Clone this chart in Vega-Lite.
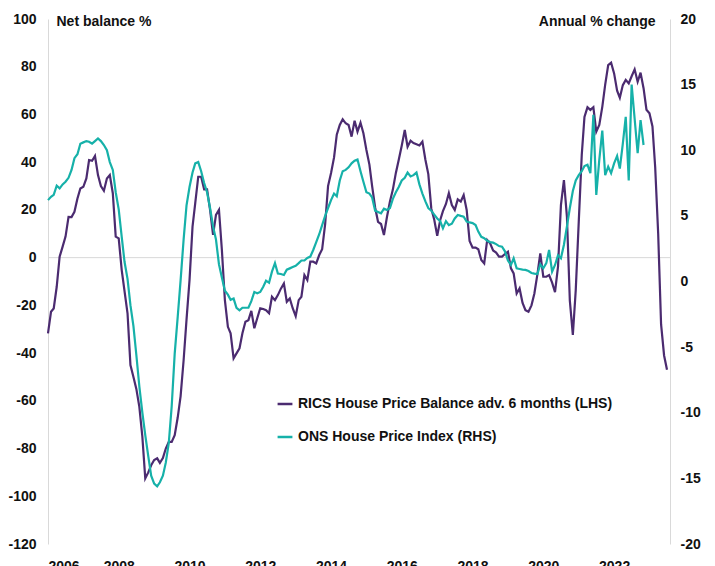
{
  "$schema": "https://vega.github.io/schema/vega-lite/v6.json",
  "width": 622,
  "height": 525,
  "autosize": {"type": "none"},
  "padding": {"left": 48, "top": 19, "right": 45, "bottom": 22},
  "config": {
    "view": {"stroke": null},
    "font": "Liberation Sans",
    "axis": {"labelFont": "Liberation Sans", "titleFont": "Liberation Sans", "labelColor": "#111111", "titleColor": "#111111"},
    "legend": {"labelFont": "Liberation Sans"}
  },
  "datasets": {
    "rics": [
      {"d":"2006-01","v":-31.7},{"d":"2006-02","v":-22.7},{"d":"2006-03","v":-21.3},{"d":"2006-04","v":-12.2},{"d":"2006-05","v":0.4},{"d":"2006-06","v":4.6},{"d":"2006-07","v":8.8},{"d":"2006-08","v":17.1},{"d":"2006-09","v":17},{"d":"2006-10","v":19.2},{"d":"2006-11","v":24.8},{"d":"2006-12","v":29},
      {"d":"2007-01","v":29.7},{"d":"2007-02","v":33.2},{"d":"2007-03","v":40.9},{"d":"2007-04","v":40.6},{"d":"2007-05","v":42.6},{"d":"2007-06","v":34.6},{"d":"2007-07","v":30},{"d":"2007-08","v":28},{"d":"2007-09","v":33.2},{"d":"2007-10","v":34.6},{"d":"2007-11","v":27},{"d":"2007-12","v":8.8},
      {"d":"2008-01","v":8.1},{"d":"2008-02","v":-5.2},{"d":"2008-03","v":-14},{"d":"2008-04","v":-23.3},{"d":"2008-05","v":-45},{"d":"2008-06","v":-50},{"d":"2008-07","v":-55},{"d":"2008-08","v":-62.5},{"d":"2008-09","v":-75},{"d":"2008-10","v":-92.5},{"d":"2008-11","v":-90},{"d":"2008-12","v":-87},
      {"d":"2009-01","v":-84.8},{"d":"2009-02","v":-84.1},{"d":"2009-03","v":-86},{"d":"2009-04","v":-84},{"d":"2009-05","v":-80},{"d":"2009-06","v":-77.2},{"d":"2009-07","v":-77.2},{"d":"2009-08","v":-74.4},{"d":"2009-09","v":-67},{"d":"2009-10","v":-58},{"d":"2009-11","v":-43},{"d":"2009-12","v":-26},
      {"d":"2010-01","v":-9.4},{"d":"2010-02","v":13},{"d":"2010-03","v":22.8},{"d":"2010-04","v":33.9},{"d":"2010-05","v":33.9},{"d":"2010-06","v":28.6},{"d":"2010-07","v":28.6},{"d":"2010-08","v":20},{"d":"2010-09","v":9.5},{"d":"2010-10","v":17.9},{"d":"2010-11","v":20},{"d":"2010-12","v":3.2},
      {"d":"2011-01","v":-17.8},{"d":"2011-02","v":-29},{"d":"2011-03","v":-31.7},{"d":"2011-04","v":-42.2},{"d":"2011-05","v":-40.1},{"d":"2011-06","v":-38},{"d":"2011-07","v":-31.7},{"d":"2011-08","v":-26.9},{"d":"2011-09","v":-26.2},{"d":"2011-10","v":-22.3},{"d":"2011-11","v":-29.6},{"d":"2011-12","v":-25.4},
      {"d":"2012-01","v":-21.2},{"d":"2012-02","v":-21.5},{"d":"2012-03","v":-22},{"d":"2012-04","v":-23.3},{"d":"2012-05","v":-16.4},{"d":"2012-06","v":-17.8},{"d":"2012-07","v":-15.7},{"d":"2012-08","v":-13},{"d":"2012-09","v":-10.8},{"d":"2012-10","v":-18.5},{"d":"2012-11","v":-17.1},{"d":"2012-12","v":-21.2},
      {"d":"2013-01","v":-24.5},{"d":"2013-02","v":-17.8},{"d":"2013-03","v":-16.4},{"d":"2013-04","v":-7.3},{"d":"2013-05","v":-9.4},{"d":"2013-06","v":-1.7},{"d":"2013-07","v":-1.7},{"d":"2013-08","v":-2.4},{"d":"2013-09","v":1.1},{"d":"2013-10","v":3.5},{"d":"2013-11","v":14},{"d":"2013-12","v":30},
      {"d":"2014-01","v":35.5},{"d":"2014-02","v":42},{"d":"2014-03","v":51.5},{"d":"2014-04","v":55.6},{"d":"2014-05","v":58},{"d":"2014-06","v":56.3},{"d":"2014-07","v":55.6},{"d":"2014-08","v":50.7},{"d":"2014-09","v":57.4},{"d":"2014-10","v":52.8},{"d":"2014-11","v":56.5},{"d":"2014-12","v":52.1},
      {"d":"2015-01","v":45.1},{"d":"2015-02","v":39},{"d":"2015-03","v":30},{"d":"2015-04","v":21},{"d":"2015-05","v":15},{"d":"2015-06","v":14.1},{"d":"2015-07","v":9.5},{"d":"2015-08","v":17},{"d":"2015-09","v":23.5},{"d":"2015-10","v":28.5},{"d":"2015-11","v":35.5},{"d":"2015-12","v":41},
      {"d":"2016-01","v":47},{"d":"2016-02","v":53.5},{"d":"2016-03","v":46.5},{"d":"2016-04","v":49},{"d":"2016-05","v":48},{"d":"2016-06","v":47.5},{"d":"2016-07","v":47},{"d":"2016-08","v":48.6},{"d":"2016-09","v":41},{"d":"2016-10","v":35},{"d":"2016-11","v":20.5},{"d":"2016-12","v":16},
      {"d":"2017-01","v":9.1},{"d":"2017-02","v":15.8},{"d":"2017-03","v":19.5},{"d":"2017-04","v":22.5},{"d":"2017-05","v":27},{"d":"2017-06","v":22},{"d":"2017-07","v":20},{"d":"2017-08","v":24.4},{"d":"2017-09","v":23.5},{"d":"2017-10","v":26.2},{"d":"2017-11","v":20},{"d":"2017-12","v":7},
      {"d":"2018-01","v":4.2},{"d":"2018-02","v":4.2},{"d":"2018-03","v":3.5},{"d":"2018-04","v":-1},{"d":"2018-05","v":-2.4},{"d":"2018-06","v":7.4},{"d":"2018-07","v":6},{"d":"2018-08","v":3},{"d":"2018-09","v":2.1},{"d":"2018-10","v":0.4},{"d":"2018-11","v":0.4},{"d":"2018-12","v":1.5},
      {"d":"2019-01","v":2.5},{"d":"2019-02","v":-4.5},{"d":"2019-03","v":-6.6},{"d":"2019-04","v":-15},{"d":"2019-05","v":-12.9},{"d":"2019-06","v":-19},{"d":"2019-07","v":-22},{"d":"2019-08","v":-22.7},{"d":"2019-09","v":-20},{"d":"2019-10","v":-15},{"d":"2019-11","v":-7},{"d":"2019-12","v":1.8},
      {"d":"2020-01","v":-8},{"d":"2020-02","v":-8},{"d":"2020-03","v":-7.3},{"d":"2020-04","v":-10.5},{"d":"2020-05","v":-14.5},{"d":"2020-06","v":-3.8},{"d":"2020-07","v":22},{"d":"2020-08","v":32.5},{"d":"2020-09","v":17.1},{"d":"2020-10","v":-18},{"d":"2020-11","v":-32.4},{"d":"2020-12","v":-13.6},
      {"d":"2021-01","v":15},{"d":"2021-02","v":43},{"d":"2021-03","v":59},{"d":"2021-04","v":63},{"d":"2021-05","v":61.9},{"d":"2021-06","v":63},{"d":"2021-07","v":52.8},{"d":"2021-08","v":55.6},{"d":"2021-09","v":63.2},{"d":"2021-10","v":72.5},{"d":"2021-11","v":80.7},{"d":"2021-12","v":81.7},
      {"d":"2022-01","v":77.2},{"d":"2022-02","v":70},{"d":"2022-03","v":67},{"d":"2022-04","v":72.3},{"d":"2022-05","v":74.5},{"d":"2022-06","v":73},{"d":"2022-07","v":76},{"d":"2022-08","v":78.9},{"d":"2022-09","v":73.7},{"d":"2022-10","v":77.5},{"d":"2022-11","v":71},{"d":"2022-12","v":62},
      {"d":"2023-01","v":60.5},{"d":"2023-02","v":55},{"d":"2023-03","v":38},{"d":"2023-04","v":10},{"d":"2023-05","v":-28},{"d":"2023-06","v":-41},{"d":"2023-07","v":-47}
    ],
    "ons": [
      {"d":"2006-01","v":6.2},{"d":"2006-02","v":6.45},{"d":"2006-03","v":6.6},{"d":"2006-04","v":7.3},{"d":"2006-05","v":7.1},{"d":"2006-06","v":7.4},{"d":"2006-07","v":7.6},{"d":"2006-08","v":7.9},{"d":"2006-09","v":8.5},{"d":"2006-10","v":9.4},{"d":"2006-11","v":9.7},{"d":"2006-12","v":10.5},
      {"d":"2007-01","v":10.6},{"d":"2007-02","v":10.7},{"d":"2007-03","v":10.65},{"d":"2007-04","v":10.5},{"d":"2007-05","v":10.7},{"d":"2007-06","v":10.9},{"d":"2007-07","v":10.7},{"d":"2007-08","v":10.4},{"d":"2007-09","v":10.0},{"d":"2007-10","v":9.1},{"d":"2007-11","v":8.5},{"d":"2007-12","v":6.8},
      {"d":"2008-01","v":5.5},{"d":"2008-02","v":3.4},{"d":"2008-03","v":1.5},{"d":"2008-04","v":0.2},{"d":"2008-05","v":-1.8},{"d":"2008-06","v":-3.4},{"d":"2008-07","v":-5.6},{"d":"2008-08","v":-8},{"d":"2008-09","v":-10},{"d":"2008-10","v":-11.7},{"d":"2008-11","v":-13.3},{"d":"2008-12","v":-14.8},
      {"d":"2009-01","v":-15.4},{"d":"2009-02","v":-15.6},{"d":"2009-03","v":-15.3},{"d":"2009-04","v":-14.8},{"d":"2009-05","v":-13.8},{"d":"2009-06","v":-12.3},{"d":"2009-07","v":-9.5},{"d":"2009-08","v":-5.5},{"d":"2009-09","v":-2.7},{"d":"2009-10","v":0.1},{"d":"2009-11","v":3.2},{"d":"2009-12","v":5.8},
      {"d":"2010-01","v":7.2},{"d":"2010-02","v":8.3},{"d":"2010-03","v":9.0},{"d":"2010-04","v":9.1},{"d":"2010-05","v":8.4},{"d":"2010-06","v":7.5},{"d":"2010-07","v":6.8},{"d":"2010-08","v":5.6},{"d":"2010-09","v":4.2},{"d":"2010-10","v":3.2},{"d":"2010-11","v":1.3},{"d":"2010-12","v":0.3},
      {"d":"2011-01","v":-0.7},{"d":"2011-02","v":-1.0},{"d":"2011-03","v":-1.4},{"d":"2011-04","v":-1.3},{"d":"2011-05","v":-2.0},{"d":"2011-06","v":-2.2},{"d":"2011-07","v":-2.0},{"d":"2011-08","v":-2.0},{"d":"2011-09","v":-2.0},{"d":"2011-10","v":-1.5},{"d":"2011-11","v":-0.8},{"d":"2011-12","v":-0.9},
      {"d":"2012-01","v":-0.8},{"d":"2012-02","v":-0.4},{"d":"2012-03","v":0.06},{"d":"2012-04","v":-0.1},{"d":"2012-05","v":0.75},{"d":"2012-06","v":1.4},{"d":"2012-07","v":0.6},{"d":"2012-08","v":0.57},{"d":"2012-09","v":0.5},{"d":"2012-10","v":0.9},{"d":"2012-11","v":1.0},{"d":"2012-12","v":1.1},
      {"d":"2013-01","v":1.2},{"d":"2013-02","v":1.4},{"d":"2013-03","v":1.6},{"d":"2013-04","v":1.6},{"d":"2013-05","v":1.8},{"d":"2013-06","v":1.9},{"d":"2013-07","v":2.4},{"d":"2013-08","v":3.0},{"d":"2013-09","v":3.6},{"d":"2013-10","v":4.3},{"d":"2013-11","v":5.0},{"d":"2013-12","v":5.6},
      {"d":"2014-01","v":6.2},{"d":"2014-02","v":6.7},{"d":"2014-03","v":6.5},{"d":"2014-04","v":7.7},{"d":"2014-05","v":8.4},{"d":"2014-06","v":8.5},{"d":"2014-07","v":8.7},{"d":"2014-08","v":9.0},{"d":"2014-09","v":9.2},{"d":"2014-10","v":9.3},{"d":"2014-11","v":8.4},{"d":"2014-12","v":7.6},
      {"d":"2015-01","v":6.8},{"d":"2015-02","v":6.7},{"d":"2015-03","v":6.4},{"d":"2015-04","v":5.4},{"d":"2015-05","v":5.3},{"d":"2015-06","v":5.2},{"d":"2015-07","v":5.55},{"d":"2015-08","v":5.45},{"d":"2015-09","v":5.6},{"d":"2015-10","v":6.3},{"d":"2015-11","v":6.8},{"d":"2015-12","v":7.2},
      {"d":"2016-01","v":7.7},{"d":"2016-02","v":7.9},{"d":"2016-03","v":8.3},{"d":"2016-04","v":8.0},{"d":"2016-05","v":8.1},{"d":"2016-06","v":8.3},{"d":"2016-07","v":7.4},{"d":"2016-08","v":6.7},{"d":"2016-09","v":6.1},{"d":"2016-10","v":5.6},{"d":"2016-11","v":5.4},{"d":"2016-12","v":5.1},
      {"d":"2017-01","v":4.8},{"d":"2017-02","v":4.6},{"d":"2017-03","v":4.05},{"d":"2017-04","v":4.6},{"d":"2017-05","v":4.3},{"d":"2017-06","v":4.4},{"d":"2017-07","v":4.8},{"d":"2017-08","v":5.07},{"d":"2017-09","v":5.0},{"d":"2017-10","v":4.94},{"d":"2017-11","v":4.56},{"d":"2017-12","v":4.5},
      {"d":"2018-01","v":4.45},{"d":"2018-02","v":4.3},{"d":"2018-03","v":3.8},{"d":"2018-04","v":3.4},{"d":"2018-05","v":3.3},{"d":"2018-06","v":3.1},{"d":"2018-07","v":3.0},{"d":"2018-08","v":2.96},{"d":"2018-09","v":2.85},{"d":"2018-10","v":2.7},{"d":"2018-11","v":2.65},{"d":"2018-12","v":2.3},
      {"d":"2019-01","v":1.6},{"d":"2019-02","v":1.26},{"d":"2019-03","v":1.77},{"d":"2019-04","v":1.0},{"d":"2019-05","v":0.95},{"d":"2019-06","v":0.9},{"d":"2019-07","v":0.88},{"d":"2019-08","v":0.8},{"d":"2019-09","v":0.65},{"d":"2019-10","v":0.6},{"d":"2019-11","v":0.57},{"d":"2019-12","v":1.3},
      {"d":"2020-01","v":1.0},{"d":"2020-02","v":1.4},{"d":"2020-03","v":2.4},{"d":"2020-04","v":0.75},{"d":"2020-05","v":1.26},{"d":"2020-06","v":2.0},{"d":"2020-07","v":1.77},{"d":"2020-08","v":2.8},{"d":"2020-09","v":4.2},{"d":"2020-10","v":5.6},{"d":"2020-11","v":6.9},{"d":"2020-12","v":7.7},
      {"d":"2021-01","v":8.1},{"d":"2021-02","v":8.4},{"d":"2021-03","v":8.8},{"d":"2021-04","v":8.9},{"d":"2021-05","v":8.25},{"d":"2021-06","v":12.7},{"d":"2021-07","v":6.6},{"d":"2021-08","v":9.26},{"d":"2021-09","v":11.5},{"d":"2021-10","v":8.1},{"d":"2021-11","v":8.75},{"d":"2021-12","v":8.25},
      {"d":"2022-01","v":9.0},{"d":"2022-02","v":9.56},{"d":"2022-03","v":8.6},{"d":"2022-04","v":10.5},{"d":"2022-05","v":12.55},{"d":"2022-06","v":7.7},{"d":"2022-07","v":15.0},{"d":"2022-08","v":12.4},{"d":"2022-09","v":9.77},{"d":"2022-10","v":12.3},{"d":"2022-11","v":10.4}
    ]
  },
  "layer": [
    {
      "data": {"values": [{"z": 0}]},
      "mark": {"type": "rule", "color": "#d9d9d9", "strokeWidth": 1},
      "encoding": {
        "y": {"field": "z", "type": "quantitative", "scale": {"domain": [-120, 100], "nice": false, "zero": false}, "axis": null}
      }
    },
    {
      "data": {"name": "rics"},
      "mark": {"type": "line", "strokeWidth": 2.2, "interpolate": "linear"},
      "encoding": {
        "x": {
          "field": "d", "type": "temporal",
          "scale": {"type": "utc", "domain": [{"year": 2006, "month": 1, "date": 1, "utc": true}, {"year": 2023, "month": 8, "date": 1, "utc": true}]},
          "axis": {
            "values": [
              {"year": 2006, "month": 1, "date": 1, "utc": true},
              {"year": 2008, "month": 1, "date": 1, "utc": true},
              {"year": 2010, "month": 1, "date": 1, "utc": true},
              {"year": 2012, "month": 1, "date": 1, "utc": true},
              {"year": 2014, "month": 1, "date": 1, "utc": true},
              {"year": 2016, "month": 1, "date": 1, "utc": true},
              {"year": 2018, "month": 1, "date": 1, "utc": true},
              {"year": 2020, "month": 1, "date": 1, "utc": true},
              {"year": 2022, "month": 1, "date": 1, "utc": true}
            ],
            "format": "%Y",
            "domain": false, "ticks": false, "grid": false,
            "labelPadding": 15, "labelFontSize": 14, "labelFontWeight": "bold", "labelBaseline": "top",
            "title": null
          }
        },
        "y": {
          "field": "v", "type": "quantitative",
          "scale": {"domain": [-120, 100], "nice": false, "zero": false},
          "axis": {
            "orient": "left",
            "values": [-120, -100, -80, -60, -40, -20, 0, 20, 40, 60, 80, 100],
            "labelExpr": "datum.value < 0 ? '-' + abs(datum.value) : '' + datum.value",
            "domain": true, "domainColor": "#d9d9d9", "domainWidth": 1,
            "ticks": false, "grid": false,
            "labelPadding": 12, "labelFontSize": 14, "labelFontWeight": "bold",
            "title": "Net balance %", "titleAngle": 0, "titleAlign": "left", "titleBaseline": "middle",
            "titleX": 8, "titleY": 2, "titleFontSize": 14, "titleFontWeight": "bold"
          }
        },
        "color": {
          "datum": "RICS House Price Balance adv. 6 months (LHS)", "type": "nominal",
          "scale": {"domain": ["RICS House Price Balance adv. 6 months (LHS)", "ONS House Price Index (RHS)"], "range": ["#4b2b70", "#16b1a9"]},
          "legend": {
            "orient": "none", "legendX": 228, "legendY": 376,
            "title": null, "symbolType": "stroke", "symbolStrokeWidth": 2.5, "symbolSize": 220,
            "labelFontSize": 14, "labelFontWeight": "bold", "labelColor": "#111111", "labelLimit": 500,
            "labelOffset": 4, "rowPadding": 17
          }
        }
      }
    },
    {
      "data": {"name": "ons"},
      "mark": {"type": "line", "strokeWidth": 2.2, "interpolate": "linear"},
      "encoding": {
        "x": {"field": "d", "type": "temporal"},
        "y": {
          "field": "v", "type": "quantitative",
          "scale": {"domain": [-20, 20], "nice": false, "zero": false},
          "axis": {
            "orient": "right",
            "values": [-20, -15, -10, -5, 0, 5, 10, 15, 20],
            "labelExpr": "datum.value < 0 ? '-' + abs(datum.value) : '' + datum.value",
            "domain": true, "domainColor": "#d9d9d9", "domainWidth": 1,
            "ticks": false, "grid": false,
            "labelPadding": 10, "labelFontSize": 14, "labelFontWeight": "bold", "labelAlign": "left",
            "title": "Annual % change", "titleAngle": 0, "titleAlign": "right", "titleBaseline": "middle",
            "titleX": -15, "titleY": 2, "titleFontSize": 14, "titleFontWeight": "bold"
          }
        },
        "color": {"datum": "ONS House Price Index (RHS)", "type": "nominal"}
      }
    }
  ],
  "resolve": {"scale": {"y": "independent"}}
}
